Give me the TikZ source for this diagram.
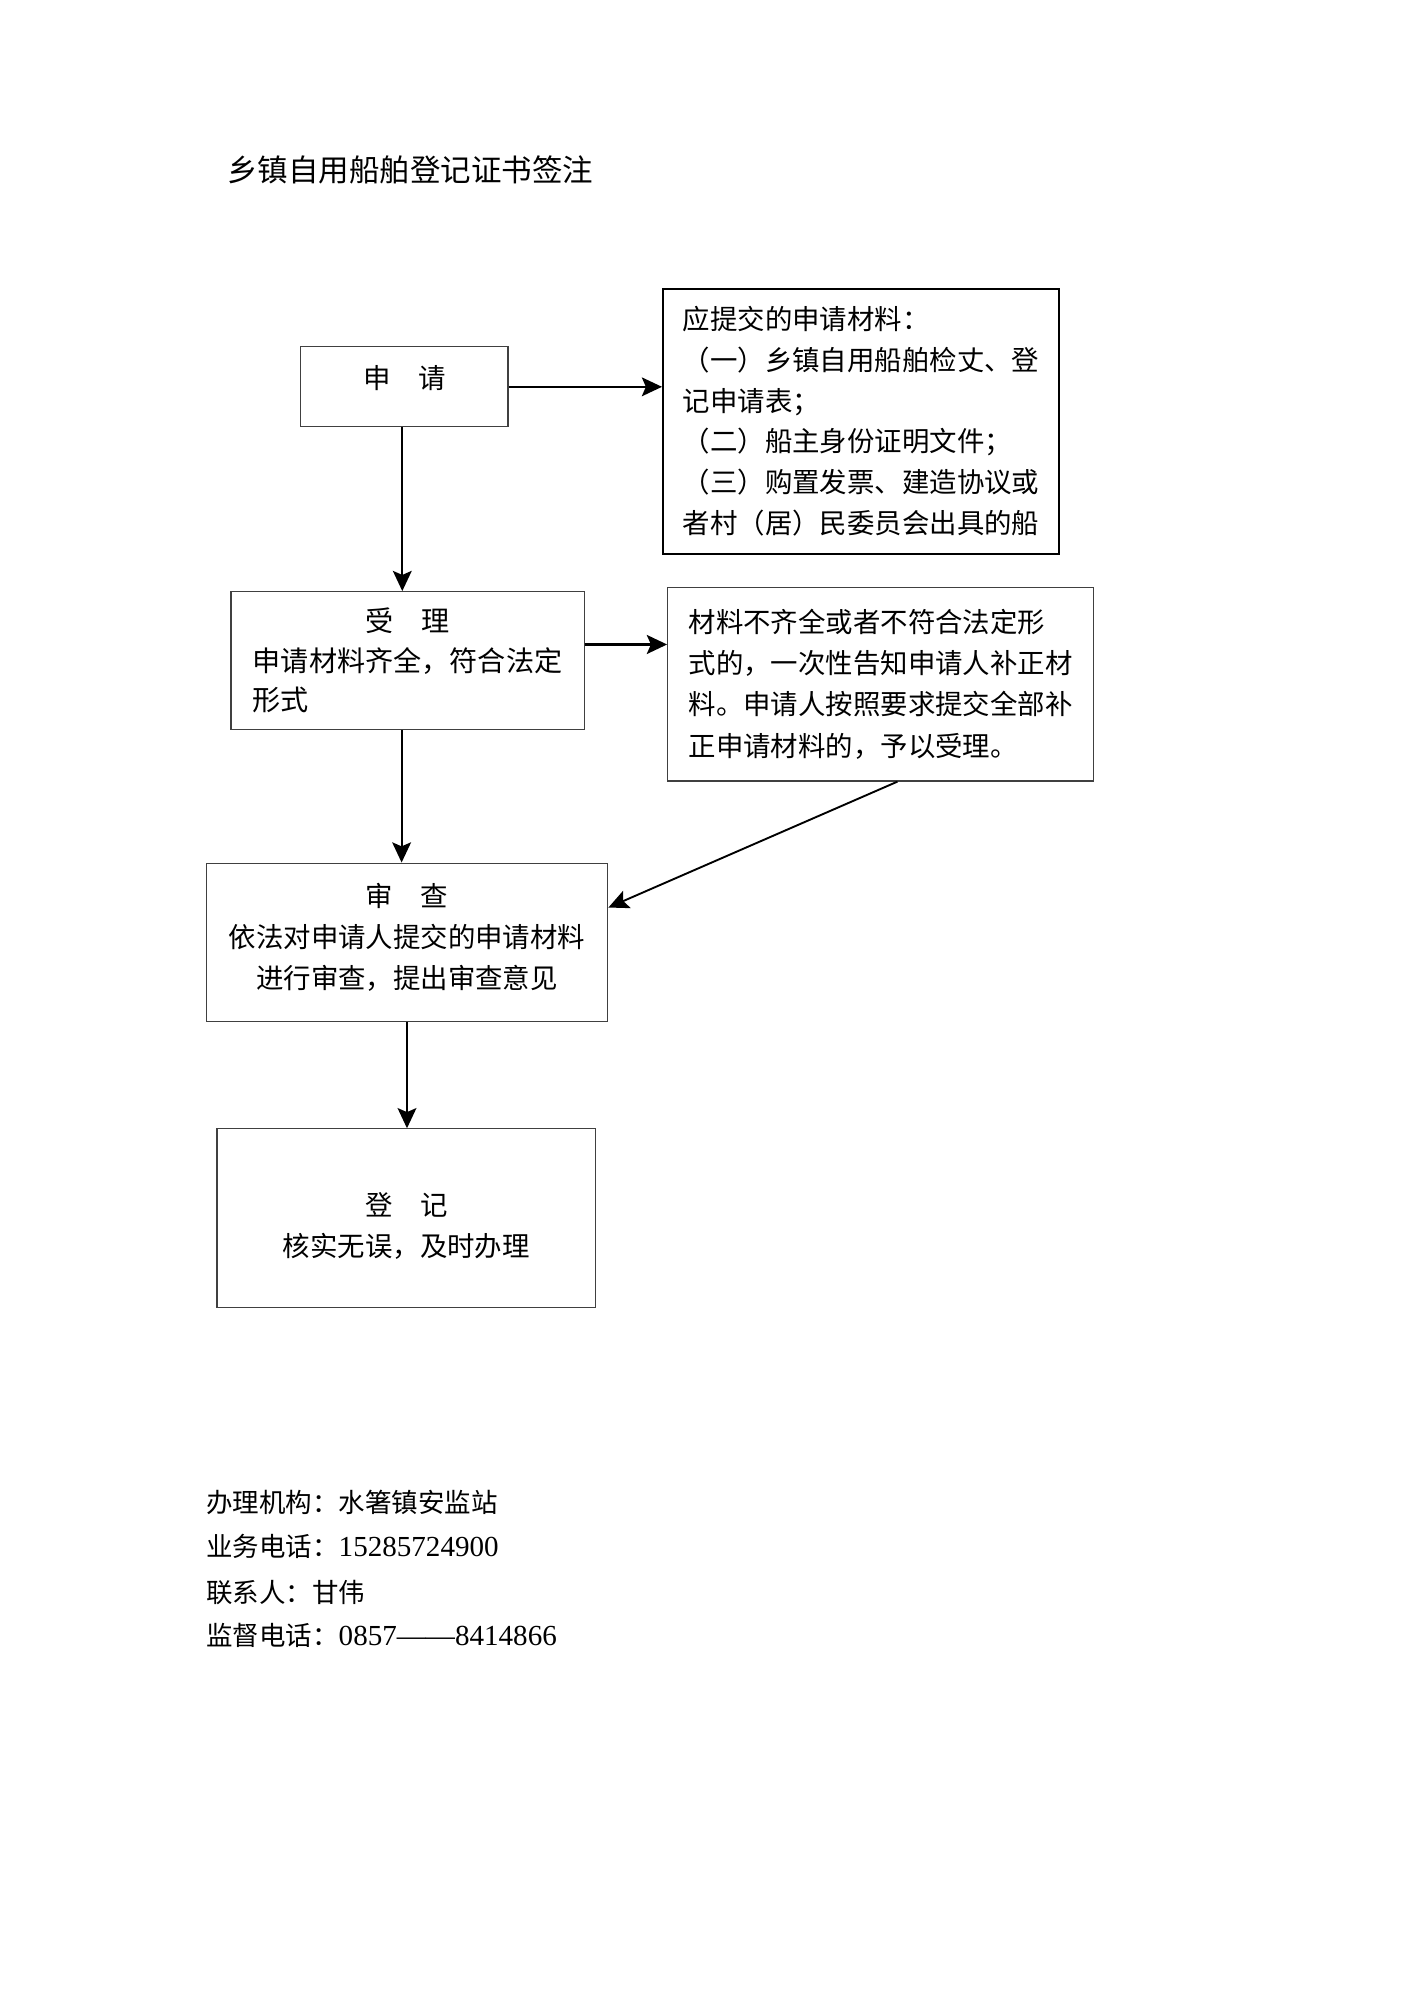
\documentclass[tikz,border=0pt]{standalone}
\usepackage{fontspec}
\setmainfont{Liberation Serif}
\newfontfamily\cjk{Noto Sans CJK SC}
\usetikzlibrary{arrows.meta}

\begin{document}
\begin{tikzpicture}[y=-1cm,
  box/.style={draw=black!75, line width=0.5pt, inner sep=0pt, font=\cjk\fontsize{11.6pt}{17.3pt}\selectfont},
  foot/.style={anchor=west, inner sep=0pt, font=\fontsize{11.2pt}{14pt}\selectfont},
  arr/.style={line width=0.8pt, -{Stealth[length=3mm,width=2.8mm,inset=0.6mm]}}]
\useasboundingbox (0,0) rectangle (21,29.7);

\node[anchor=west, inner sep=0pt, font=\cjk\fontsize{12.9pt}{15pt}\selectfont] (title) at (3.37,2.53) {乡镇自用船舶登记证书签注};

% boxes
\node[box, minimum width=3.08cm, minimum height=1.19cm, text depth=0.3cm] (apply) at (6.01,5.75) {申　请};
\node[box, draw=black, line width=0.8pt, minimum width=5.89cm, minimum height=3.94cm, align=left] (docs) at (12.80,6.26) {应提交的申请材料：\\（一）乡镇自用船舶检丈、登\\记申请表；\\（二）船主身份证明文件；\\（三）购置发票、建造协议或\\者村（居）民委员会出具的船};
\node[box, minimum width=5.25cm, minimum height=2.05cm, text width=131pt, align=left, font=\cjk\fontsize{11.9pt}{16.7pt}\selectfont] (accept) at (6.06,9.82) {\makebox[131pt]{受　理}\\申请材料齐全，符合法定\\形式};
\node[box, minimum width=6.33cm, minimum height=2.88cm, align=left, font=\cjk\fontsize{11.6pt}{17.4pt}\selectfont] (fix) at (13.09,10.17) {材料不齐全或者不符合法定形\\式的，一次性告知申请人补正材\\料。申请人按照要求提交全部补\\正申请材料的，予以受理。};
\node[box, minimum width=5.97cm, minimum height=2.36cm, align=center, text depth=0.2cm] (review) at (6.05,14.01) {审　查\\依法对申请人提交的申请材料\\进行审查，提出审查意见};
\node[box, minimum width=5.63cm, minimum height=2.66cm, align=center] (register) at (6.04,18.11) {\rule{0pt}{0.58cm}登　记\\核实无误，及时办理};

% arrows
\draw[arr] (apply) -- (apply -| docs.west);
\draw[arr] ([xshift=-0.03cm]apply.south) -- ([xshift=-0.03cm]apply.south |- accept.north);
\coordinate (a1) at ([yshift=0.24cm]accept.east);
\draw[arr, line width=1.3pt] (a1) -- (a1 -| fix.west);
\draw[arr] ([xshift=-0.09cm]accept.south) -- ([xshift=-0.09cm]accept.south |- review.north);
\draw[arr] ([xshift=0.25cm]fix.south) -- ([yshift=0.52cm]review.east);
\draw[arr] (review.south) -- (review.south |- register.north);

% footer
\node[foot] (office) at (3.06,22.34) {\cjk 办理机构：水箸镇安监站};
\node[foot] (phone) at (3.06,22.99) {{\cjk 业务电话：}{\fontsize{12.3pt}{14pt}\selectfont 15285724900}};
\node[foot] (contact) at (3.06,23.68) {\cjk 联系人：甘伟};
\node[foot] (supervise) at (3.06,24.31) {{\cjk 监督电话：}{\fontsize{12.3pt}{14pt}\selectfont 0857——8414866}};
\end{tikzpicture}
\end{document}
